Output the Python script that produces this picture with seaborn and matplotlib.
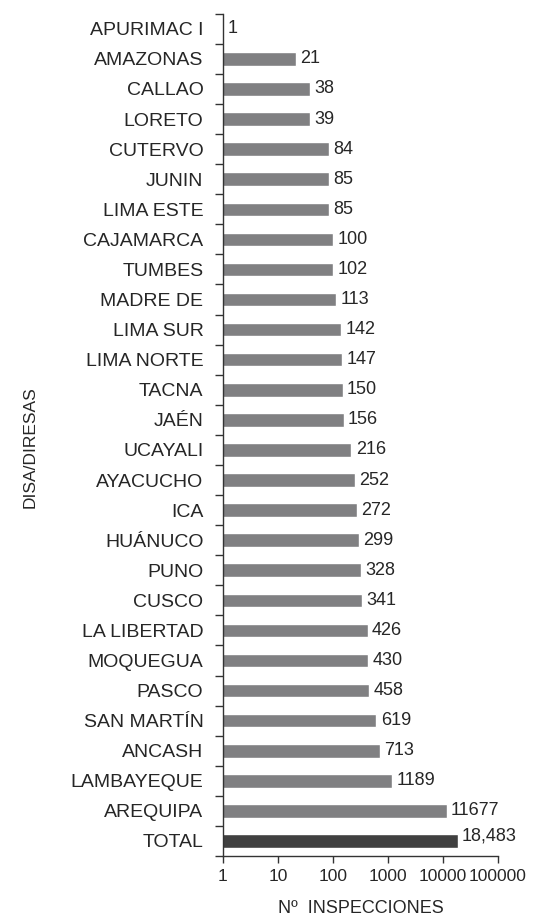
import numpy as np
import pandas as pd
import matplotlib
matplotlib.use("Agg")
import matplotlib.pyplot as plt
import seaborn as sns

# datos
regiones = ["APURIMAC I", "AMAZONAS", "CALLAO", "LORETO", "CUTERVO", "JUNIN",
            "LIMA ESTE", "CAJAMARCA", "TUMBES", "MADRE DE", "LIMA SUR",
            "LIMA NORTE", "TACNA", "JAÉN", "UCAYALI", "AYACUCHO", "ICA",
            "HUÁNUCO", "PUNO", "CUSCO", "LA LIBERTAD", "MOQUEGUA", "PASCO",
            "SAN MARTÍN", "ANCASH", "LAMBAYEQUE", "AREQUIPA", "TOTAL"]
inspecciones = [1, 21, 38, 39, 84, 85, 85, 100, 102, 113, 142, 147, 150, 156,
                216, 252, 272, 299, 328, 341, 426, 430, 458, 619, 713, 1189,
                11677, 18483]
etiquetas = ["1", "21", "38", "39", "84", "85", "85", "100", "102", "113",
             "142", "147", "150", "156", "216", "252", "272", "299", "328",
             "341", "426", "430", "458", "619", "713", "1189", "11677",
             "18,483"]
xticks = [1, 10, 100, 1000, 10000, 100000]

df = pd.DataFrame({"region": regiones, "n": inspecciones})
colores = {r: "#808082" for r in regiones}
colores["TOTAL"] = "#404040"

sns.set_style("ticks")
plt.rcParams["font.family"] = ["Liberation Sans", "DejaVu Sans"]

fig = plt.figure(figsize=(5.41, 9.18), dpi=100)
ax = fig.add_axes([0.412, 0.0675, 0.5085, 0.9175])

sns.barplot(data=df, x="n", y="region", hue="region", palette=colores,
            orient="h", width=0.45, legend=False, ax=ax)
ax.set_xscale("log")
ax.set_xlim(1, 100000)
ax.set_ylim(27.5, -0.5)

ax.set_xticks(xticks)
ax.set_xticklabels([str(t) for t in xticks], fontsize=12.5)
ax.xaxis.set_minor_locator(matplotlib.ticker.NullLocator())
ax.tick_params(axis="x", length=5, width=1, color="#333333", pad=4)

# marcas en los limites de cada categoria
ax.set_yticks(np.arange(len(regiones)))
ax.set_yticklabels(regiones, fontsize=14)
ax.set_yticks(np.arange(len(regiones) + 1) - 0.5, minor=True)
ax.tick_params(axis="y", which="major", length=0, pad=14)
ax.tick_params(axis="y", which="minor", length=6, width=1, color="#333333")

for i, (v, t) in enumerate(zip(inspecciones, etiquetas)):
    dy = -0.15 if t == "18,483" else 0
    ax.text(v * 1.2, i + dy, t, va="center", ha="left", fontsize=13)

sns.despine(ax=ax)
for s in ["left", "bottom"]:
    ax.spines[s].set_color("#333333")
    ax.spines[s].set_linewidth(1)

ax.set_xlabel("Nº  INSPECCIONES", fontsize=13, labelpad=12)
ax.set_ylabel("")
fig.text(0.055, 0.513, "DISA/DIRESAS", rotation=90, va="center", ha="center",
         fontsize=12.5)

fig.savefig("out.png", dpi=100)
